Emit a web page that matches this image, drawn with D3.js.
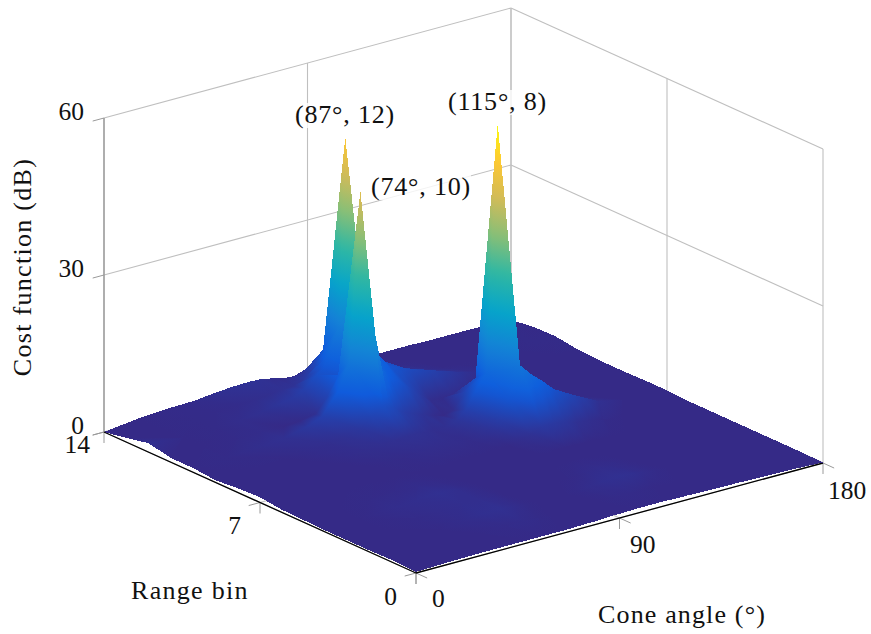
<!DOCTYPE html>
<html><head><meta charset="utf-8">
<script src="https://cdnjs.cloudflare.com/ajax/libs/d3/7.8.5/d3.min.js"></script>
<style>html,body{margin:0;padding:0;background:#fff}svg{display:block}text{font-family:"Liberation Serif",serif;fill:#111}</style>
</head><body><svg id="c" width="871" height="634"></svg>
<script>
// ---------- data ----------
const angleTicks = [0, 90, 180];
const rangeTicks = [0, 7, 14];
const costTicks = [0, 30, 60];
const peakLabels = ["(87°, 12)", "(74°, 10)", "(115°, 8)"];
const angles = [0,15,30,40,50,57,64,69,74,77,79,82,84,87,92,97,101,105,110,115,120,125,130,136,142,150,160,170,180];
const rangeBins = [0,1,2,3,4,5,6,7,8,9,10,11,12,13,14];
const parula = ["#352a87","#0f5cdd","#1481d6","#06a4ca","#2eb7a4","#87bf77","#d1bb59","#fec832","#f9fb0e"];
const costDb = [
/* 0*/[.2,.4,.5,.5,.5,.5,.5,.5,.6,.6,.6,.7,.7,.8,.8,.9,.9,.9,.9,.8,.8,.7,.7,.6,.6,.5,.4,.3,.1],
/* 1*/[.4,.6,.8,.9,1.2,1.3,1.1,.9,.8,.8,.8,.9,.9,.9,1,1.1,1.2,1.2,1.1,1,1,.9,.8,.8,.7,.6,.5,.4,.2],
/* 2*/[.3,.7,1,1.3,1.7,1.8,1.4,1.1,.9,.9,.9,.9,1,1,1.2,1.4,1.6,1.7,1.8,1.7,1.4,1.2,1,.9,.8,.7,.6,.5,.2],
/* 3*/[.3,.8,1.2,1.4,1.6,1.6,1.3,1,.8,.7,.7,.7,.7,.8,.9,1,1.1,1.3,1.4,1.3,1.2,1,.9,.8,.7,.6,.5,.4,.2],
/* 4*/[.3,.9,1.4,1.6,1.8,1.6,1.2,.9,.7,.7,.6,.6,.6,.7,.7,.8,.8,.9,1,.9,.9,.8,.8,.7,.6,.5,.4,.3,.2],
/* 5*/[.4,.8,1.1,1.2,1.3,1.2,1,.8,.7,.7,.7,.7,.7,.7,.7,.7,.8,.8,.9,1,.9,.8,.8,.7,.6,.5,.4,.3,.2],
/* 6*/[.5,.7,.9,1,1,1,.9,.8,.9,.9,1,1,1,1,.9,.9,.9,1.4,2,3,3,2.7,2,1.6,1.2,.8,.5,.4,.2],
/* 7*/[1,.8,.8,.9,1,1.1,1.2,1.3,1.4,1.4,1.4,1.4,1.4,1.4,1.3,1.7,2.3,3.5,7,12.8,10.5,8.6,6.5,5,3.6,1.8,1,.7,.4],
/* 8*/[.8,.7,.8,1,1.3,1.5,1.7,1.8,2,2,2,1.9,1.8,1.6,1.8,2.5,4,7,10,57,11,6,4,2.5,1.6,1,.8,.7,.4],
/* 9*/[.4,.7,1,1.3,1.6,2,2.8,4.5,6,5.5,5,4,3.5,3,2.2,1.4,1,1.5,4.4,6.5,5,4,3,2.2,1.5,1,.7,.5,.3],
/*10*/[.8,1.1,1.5,1.8,2.8,4,8,13,45,25,15,11.3,9.8,8,6.5,4.4,3,1.5,1.3,1.5,1.3,1.1,1,.9,.8,.7,.6,.5,.3],
/*11*/[.8,1,1.2,1.3,1,1.2,1.8,4.4,8,6,5.5,7,9,12.8,9.4,7,6.3,5.5,4.8,4.2,3.4,2.7,2,1.4,1.1,.9,.8,.8,.5],
/*12*/[1.7,1,1.1,1.4,1.8,2.4,3,4,6,7,9,12,14,50,14,9,6,4.4,3.3,2.5,1.8,1.3,1,.9,.9,1,1,1.1,1.1],
/*13*/[.8,.9,1.1,1.2,1.3,1.5,1.7,2,2.1,2.5,3.2,4,5.5,7.5,3.5,2.5,1.8,1.4,1.2,1,1,.9,.9,.9,.9,.9,1,1.1,1],
/*14*/[0,.8,1.2,1.3,1.8,2,2.1,2,1.6,1.3,1.1,.9,.8,.8,.7,.7,.7,.7,.8,.8,.8,.8,.8,.8,.7,.7,.7,.6,.4]
];
const lightGrid = "#bfbfbf", axisGrey = "#9a9a9a";

// ---------- scales ----------
const ox = 416, oy = 573;
const aX = d3.scaleLinear().domain([0,180]).range([0,407]);
const aY = d3.scaleLinear().domain([0,180]).range([0,-110]);
const rX = d3.scaleLinear().domain([0,14]).range([0,-312]);
const rY = d3.scaleLinear().domain([0,14]).range([0,-141]);
const zY = d3.scaleLinear().domain([0,60]).range([0,-314]);
const proj = (a,r,z) => [ox + aX(a) + rX(r), oy + aY(a) + rY(r) + zY(z)];
const zMin = 1, zMax = 57;
const colour = d3.scaleLinear().domain(parula.map((_,i)=>zMin+i/(parula.length-1)*(zMax-zMin))).range(parula).interpolate(d3.interpolateRgb).clamp(true);

const svg = d3.select("#c");
const defs = svg.append("defs");
const line3 = (g,p,q,col,w) => g.append("line")
  .attr("x1",proj(...p)[0]).attr("y1",proj(...p)[1]).attr("x2",proj(...q)[0]).attr("y2",proj(...q)[1])
  .attr("stroke",col).attr("stroke-width",w);

// ---------- walls ----------
const grid = svg.append("g");
costTicks.forEach(z=>{
  line3(grid,[0,14,z],[180,14,z],lightGrid,1.1);
  line3(grid,[180,14,z],[180,0,z],lightGrid,1.1);
});
angleTicks.forEach(a=>{ line3(grid,[a,14,0],[a,14,60],lightGrid,1.1); line3(grid,[a,0,0],[a,14,0],lightGrid,1.1); });
rangeTicks.forEach(r=>{ line3(grid,[180,r,0],[180,r,60],lightGrid,1.1); line3(grid,[0,r,0],[180,r,0],lightGrid,1.1); });
line3(grid,[0,14,0],[0,14,60],axisGrey,1.4);

// ---------- axis lines & ticks ----------
const axes = svg.append("g");
const dA = 5, dR = 0.5, dZ = 2.1;
angleTicks.forEach(a=>{
  line3(axes,[a,0,0],[a,-dR,0],axisGrey,1);
  line3(axes,[a,0,0],[a,0,-dZ],axisGrey,1);
});
rangeTicks.forEach(r=>{
  line3(axes,[0,r,0],[-dA,r,0],axisGrey,1);
  line3(axes,[0,r,0],[0,r,-dZ],axisGrey,1);
});
costTicks.forEach(z=>line3(axes,[0,14,z],[-dA,14,z],axisGrey,1));
line3(axes,[0,0,0],[180,0,0],"#000",1.3);
line3(axes,[0,0,0],[0,14,0],"#000",1.3);

// ---------- surface (triangles with a colour gradient along z) ----------
const tris = [];
for (let j = rangeBins.length-2; j >= 0; j--) {
  for (let i = angles.length-2; i >= 0; i--) {
    const v = (ii,jj)=>({a:angles[ii],r:rangeBins[jj],z:costDb[jj][ii]});
    const p00=v(i,j), p10=v(i+1,j), p01=v(i,j+1), p11=v(i+1,j+1);
    // the fold avoids the highest corner, so a peak stays a narrow four-sided spire
    const mainDiag = Math.max(p00.z,p11.z) <= Math.max(p10.z,p01.z);
    if (mainDiag) { tris.push([p00,p10,p11]); tris.push([p00,p11,p01]); }
    else { tris.push([p10,p11,p01]); tris.push([p00,p10,p01]); }
  }
}
const triData = tris.map((t,idx)=>{
  const P = t.map(v=>proj(v.a,v.r,v.z)), Z = t.map(v=>v.z);
  const zmin = d3.min(Z), zmax = d3.max(Z);
  const ax=P[1][0]-P[0][0], ay=P[1][1]-P[0][1], bx=P[2][0]-P[0][0], by=P[2][1]-P[0][1];
  const det = ax*by-ay*bx, dz1=Z[1]-Z[0], dz2=Z[2]-Z[0];
  let grad=null;
  if (Math.abs(det)>1e-6 && zmax-zmin>1e-6) {
    const gx=(dz1*by-dz2*ay)/det, gy=(ax*dz2-bx*dz1)/det, g2=gx*gx+gy*gy;
    const m=Z.indexOf(zmin), L=(zmax-zmin)/g2;
    const n=Math.max(2,Math.ceil((zmax-zmin)/2)+1);
    grad={x1:P[m][0],y1:P[m][1],x2:P[m][0]+gx*L,y2:P[m][1]+gy*L,
      stops:d3.range(n).map(k=>({o:k/(n-1),c:colour(zmin+(zmax-zmin)*k/(n-1))}))};
  }
  return {idx,P,grad,solid:colour(d3.mean(Z))};
});
const gr = defs.selectAll("linearGradient").data(triData.filter(d=>d.grad)).join("linearGradient")
  .attr("id",d=>"g"+d.idx).attr("gradientUnits","userSpaceOnUse")
  .attr("x1",d=>d.grad.x1).attr("y1",d=>d.grad.y1).attr("x2",d=>d.grad.x2).attr("y2",d=>d.grad.y2);
gr.selectAll("stop").data(d=>d.grad.stops).join("stop").attr("offset",d=>d.o).attr("stop-color",d=>d.c);
svg.append("g").attr("shape-rendering","crispEdges").selectAll("polygon").data(triData).join("polygon")
  .attr("points",d=>d.P.map(p=>p.join(",")).join(" "))
  .attr("fill",d=>d.grad?`url(#g${d.idx})`:d.solid);

// ---------- text ----------
const T = (s,x,y,anchor="start",ls=0,fs=25.5,rot=0)=>svg.append("text").text(s).attr("x",x).attr("y",y)
  .attr("text-anchor",anchor).attr("font-size",fs).attr("letter-spacing",ls)
  .attr("transform",rot?`rotate(${rot},${x},${y})`:null);
costTicks.forEach(z=>{const p=proj(0,14,z);T(String(z),p[0]-20,p[1]+1.5,"end");});
const rangeLabelOffset = {0:[-19,32],7:[-19,31],14:[-14,21]};
rangeTicks.forEach(r=>{const p=proj(0,r,0);T(String(r),p[0]+rangeLabelOffset[r][0],p[1]+rangeLabelOffset[r][1],"end");});
const angleLabelOffset = {0:[16,34],90:[10.5,35],180:[5,36]};
angleTicks.forEach(a=>{const p=proj(a,0,0);T(String(a),p[0]+angleLabelOffset[a][0],p[1]+angleLabelOffset[a][1]);});
T("Range bin",131,599,"start",1.3,26);
T("Cone angle (°)",598,623,"start",1.15,26);
T("Cost function (dB)",31,267,"middle",1.3,26,-90);

const labelPos = [[345,123],[421,195],[497.5,110]];
peakLabels.forEach((s,i)=>{
  const [x,y]=labelPos[i];
  const t=T(s,x,y,"middle",.8,26);
  const b=t.node().getBBox();
  svg.insert("rect","text").attr("x",b.x).attr("y",b.y+3).attr("width",b.width).attr("height",b.height-4)
    .attr("fill","#fff").attr("opacity",.8);
});
</script></body></html>
